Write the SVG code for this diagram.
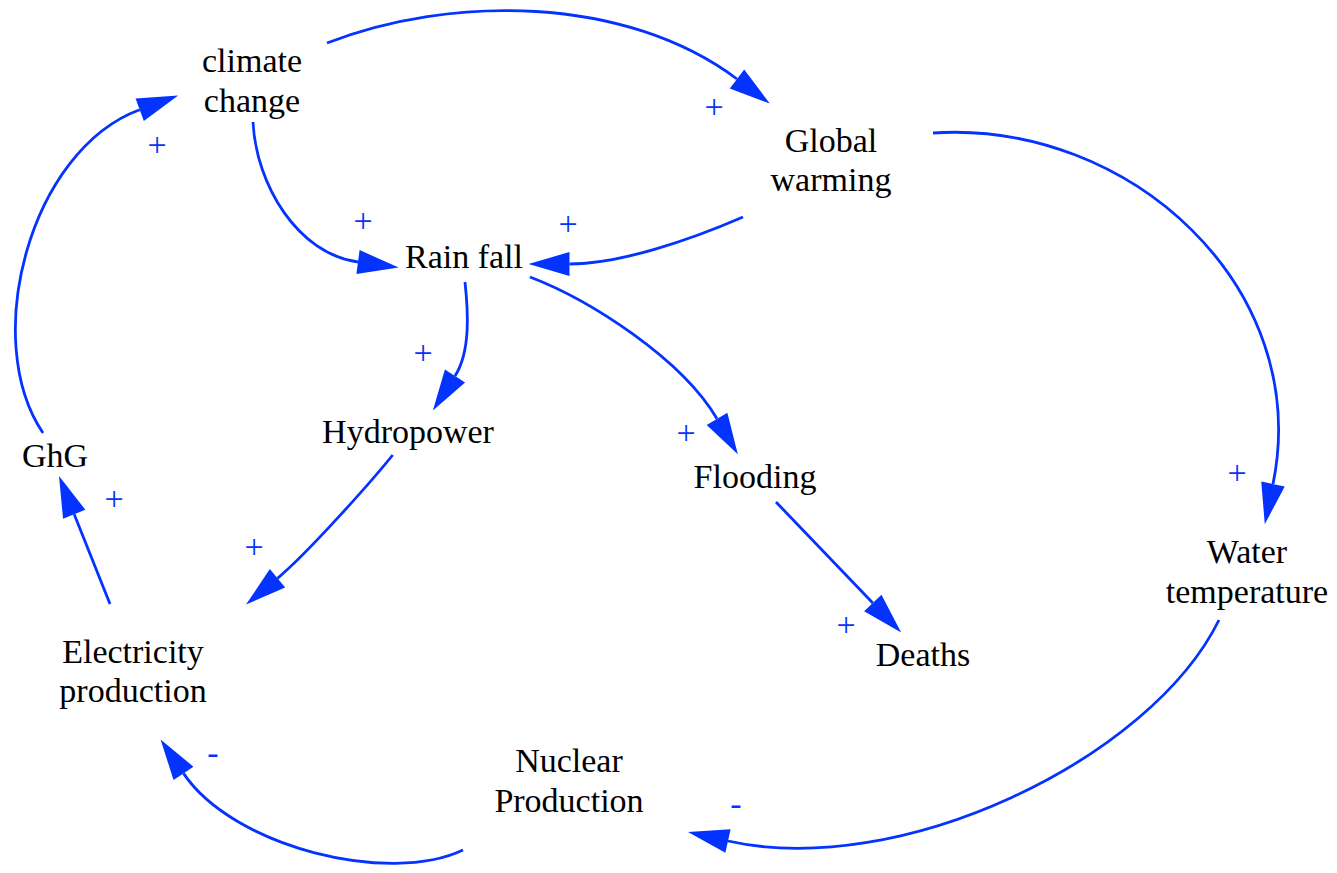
<svg xmlns="http://www.w3.org/2000/svg" width="1337" height="873" viewBox="0 0 1337 873">
<style>
.lbl{font-family:"Liberation Serif","Times New Roman",serif;font-size:34px;fill:#000;text-anchor:middle}
.pol{font-family:"Liberation Serif","Times New Roman",serif;font-size:34px;fill:#0433ff;text-anchor:middle}
.lnk{fill:none;stroke:#0433ff;stroke-width:2.8}
</style>
<defs>
<marker id="ah" markerUnits="userSpaceOnUse" markerWidth="46" markerHeight="30" refX="0" refY="13" orient="auto" overflow="visible">
<path d="M0,1 L41,13 L0,25 Z" fill="#0433ff"/>
</marker>
</defs>
<rect width="1337" height="873" fill="#fff"/>
<g id="connectors">
<path class="lnk" marker-end="url(#ah)" d="M327,43 C450,-5 625,-5 737,79"/>
<path class="lnk" marker-end="url(#ah)" d="M253,122 C256,185 298,254 358,262"/>
<path class="lnk" marker-end="url(#ah)" d="M743,217 C690,240 620,264 569.5,264"/>
<path class="lnk" marker-end="url(#ah)" d="M933,133 C1130,120 1313,288 1273,484"/>
<path class="lnk" marker-end="url(#ah)" d="M465,282 C468,310 471,351 455,376"/>
<path class="lnk" marker-end="url(#ah)" d="M530,277 C590,300 681.5,358.5 717,418.8"/>
<path class="lnk" marker-end="url(#ah)" d="M392.7,455 C372.7,480 308.2,552.7 277.5,578.3"/>
<path class="lnk" marker-end="url(#ah)" d="M776,502 L872.8,603"/>
<path class="lnk" marker-end="url(#ah)" d="M110,604 L74.2,514.2"/>
<path class="lnk" marker-end="url(#ah)" d="M43,433 C-20,340 30,150 139.7,109.7"/>
<path class="lnk" marker-end="url(#ah)" d="M1219,620 C1150,760 899,879.5 728,841"/>
<path class="lnk" marker-end="url(#ah)" d="M463,850 C390,885 233.8,848 183.5,773.4"/>
</g>
<g id="polarities">
<text class="pol" x="714" y="118">+</text>
<text class="pol" x="157" y="156">+</text>
<text class="pol" x="363" y="232">+</text>
<text class="pol" x="568" y="235">+</text>
<text class="pol" x="423" y="364">+</text>
<text class="pol" x="686" y="444">+</text>
<text class="pol" x="114" y="510">+</text>
<text class="pol" x="254" y="558">+</text>
<text class="pol" x="1237" y="484">+</text>
<text class="pol" x="846" y="636">+</text>
<text class="pol" x="213" y="764">-</text>
<text class="pol" x="736" y="815">-</text>
</g>
<g id="node-climate-change"><text class="lbl" x="252" y="72">climate</text><text class="lbl" x="252" y="112">change</text></g>
<g id="node-global-warming"><text class="lbl" x="831" y="152">Global</text><text class="lbl" x="831" y="191">warming</text></g>
<g id="node-rain-fall"><text class="lbl" x="464" y="268">Rain fall</text></g>
<g id="node-hydropower"><text class="lbl" x="408" y="443">Hydropower</text></g>
<g id="node-flooding"><text class="lbl" x="755" y="488">Flooding</text></g>
<g id="node-deaths"><text class="lbl" x="923" y="666">Deaths</text></g>
<g id="node-water-temperature"><text class="lbl" x="1247" y="563">Water</text><text class="lbl" x="1247" y="603">temperature</text></g>
<g id="node-ghg"><text class="lbl" x="55" y="467">GhG</text></g>
<g id="node-electricity-production"><text class="lbl" x="133" y="663">Electricity</text><text class="lbl" x="133" y="702">production</text></g>
<g id="node-nuclear-production"><text class="lbl" x="569" y="772">Nuclear</text><text class="lbl" x="569" y="812">Production</text></g>
</svg>
